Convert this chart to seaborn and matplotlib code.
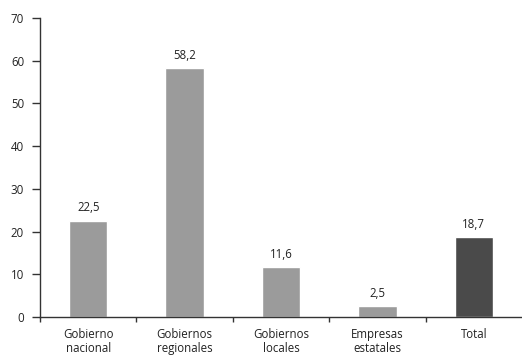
import matplotlib
matplotlib.use("Agg")
import matplotlib.pyplot as plt
import seaborn as sns
import pandas as pd
from matplotlib.ticker import FixedLocator

categories = ["Gobierno\nnacional", "Gobiernos\nregionales", "Gobiernos\nlocales",
              "Empresas\nestatales", "Total"]
values = [22.5, 58.2, 11.6, 2.5, 18.7]
colors = ["#9b9b9b", "#9b9b9b", "#9b9b9b", "#9b9b9b", "#4a4a4a"]
yticks = [0, 10, 20, 30, 40, 50, 60, 70]

sns.set_style("white")
plt.rcParams["font.family"] = ["Open Sans", "DejaVu Sans"]

df = pd.DataFrame({"cat": categories, "val": values})

fig = plt.figure(figsize=(5.22, 3.56), dpi=100)
ax = fig.add_axes([40 / 522, 1 - 317 / 356, 1 - 40 / 522, (317 - 18) / 356])

sns.barplot(data=df, x="cat", y="val", hue="cat", palette=colors, width=0.4,
            legend=False, ax=ax, saturation=1)

for i, v in enumerate(values):
    ax.text(i, v + 1.5, f"{v:.1f}".replace(".", ","), ha="center", va="bottom",
            fontsize=8.3, color="#222222")

ax.set_ylim(0, 70)
ax.set_xlim(-0.5, 4.5)
ax.set_yticks(yticks)
ax.set_xlabel("")
ax.set_ylabel("")
ax.tick_params(axis="y", which="major", length=5.5, width=1, color="#333333",
               labelsize=8.3, pad=6, labelcolor="#222222", left=True)
ax.tick_params(axis="x", which="major", length=0, labelsize=8.3, pad=8,
               labelcolor="#222222")
ax.xaxis.set_minor_locator(FixedLocator([-0.5, 0.5, 1.5, 2.5, 3.5]))
ax.tick_params(axis="x", which="minor", length=3.5, width=1, color="#333333",
               bottom=True)
for lbl in ax.get_xticklabels():
    lbl.set_linespacing(1.1)

sns.despine(ax=ax)
for s in ("left", "bottom"):
    ax.spines[s].set_color("#333333")
    ax.spines[s].set_linewidth(1)

fig.savefig("out.png", dpi=100)
